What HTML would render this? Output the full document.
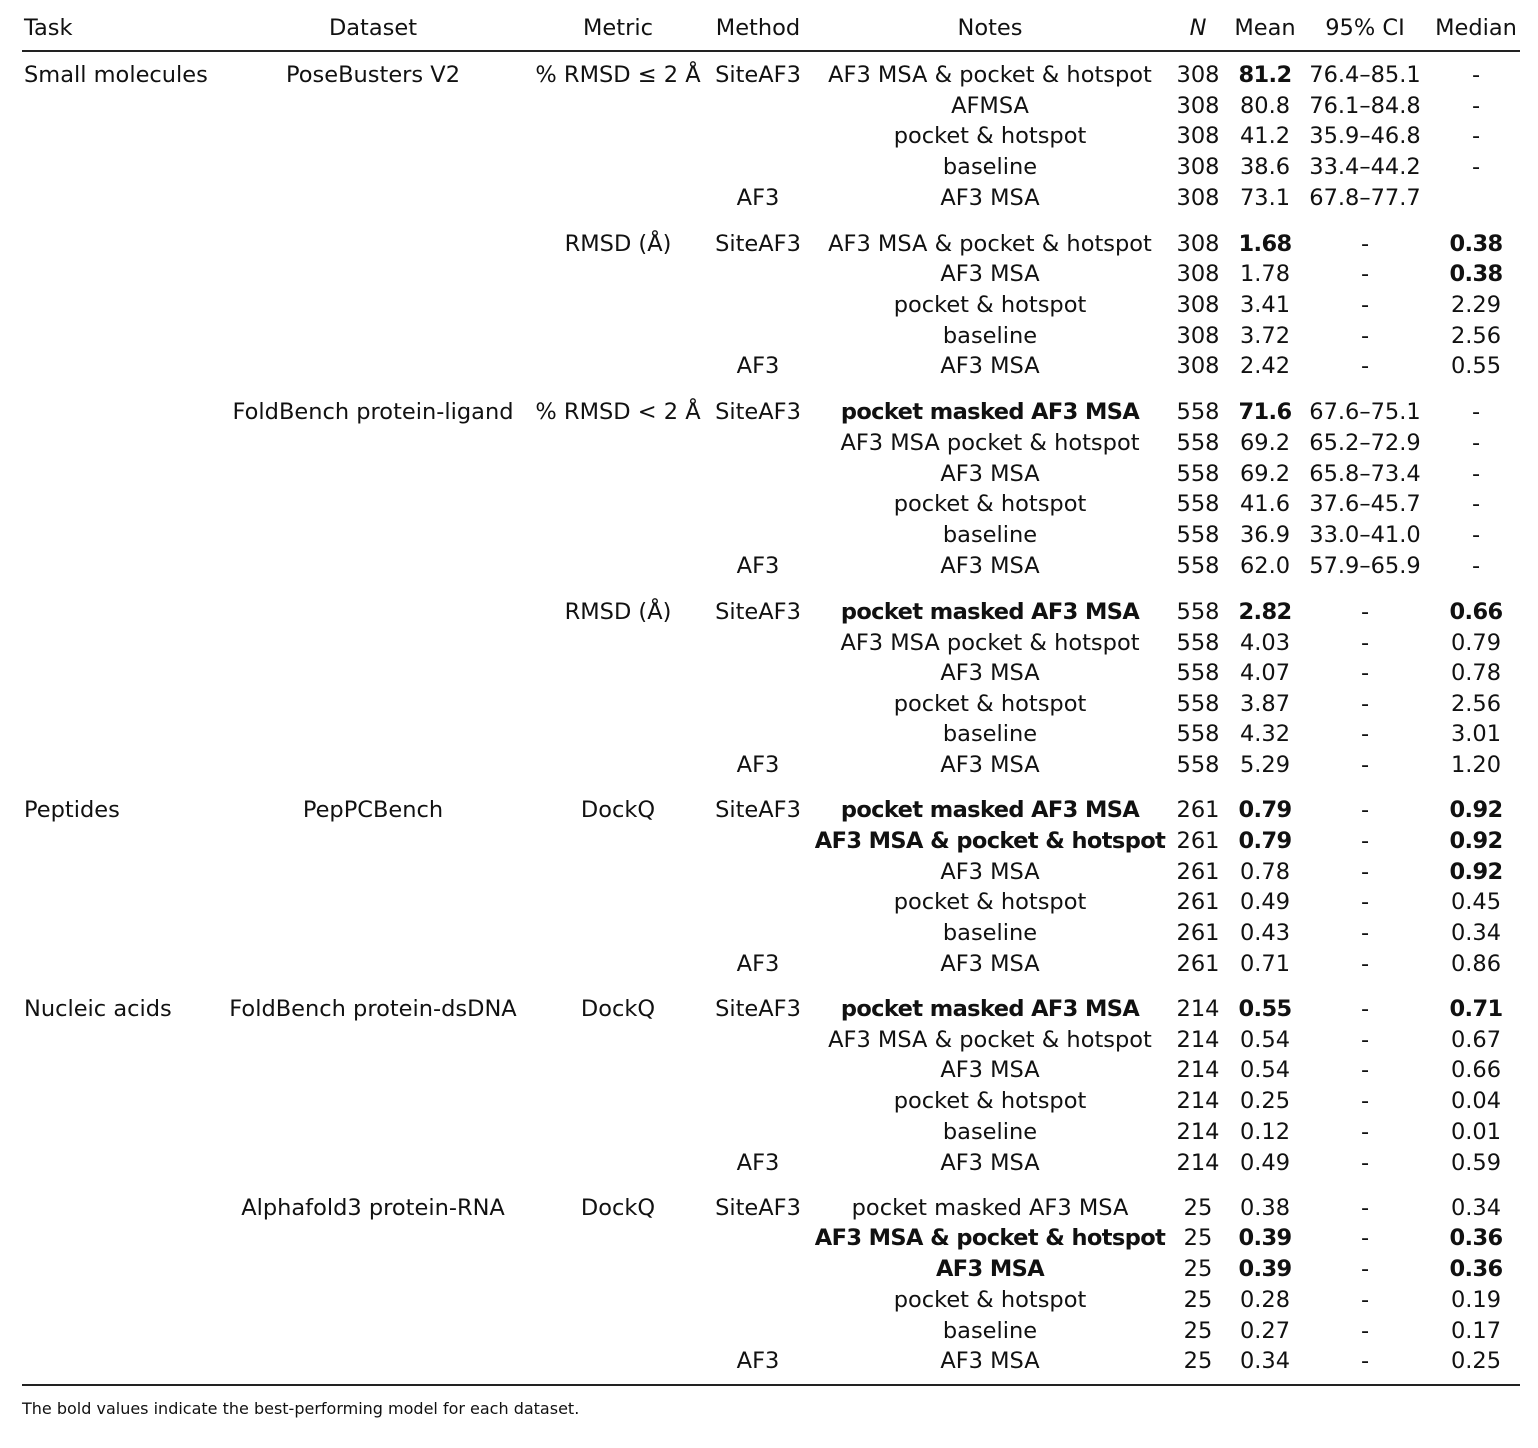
<!DOCTYPE html>
<html><head><meta charset="utf-8"><style>
body{margin:0;width:1538px;height:1448px;background:#fff;font-family:"DejaVu Sans","Liberation Sans",sans-serif;color:#111;position:relative;overflow:hidden}
.r{position:absolute;left:0;width:1538px;height:30px;line-height:30px;font-size:22.5px}
.r span{position:absolute;top:1px;transform:translateX(-50%);white-space:nowrap}
.r span.t{transform:none;left:24px}
.d{left:373px}.m{left:618px}.me{left:758px}.n{left:990px}.N{left:1198px}.mn{left:1265px}.ci{left:1365px}.md{left:1476px}
b{font-weight:bold;letter-spacing:-0.6px}
.line{position:absolute;left:22px;width:1498px;height:1.5px;background:#222}
.fn{position:absolute;left:22px;top:1399px;font-size:16px}
</style></head><body>
<div class="r" style="top:12px"><span class="t">Task</span><span class="d">Dataset</span><span class="m">Metric</span><span class="me">Method</span><span class="n">Notes</span><span class="N"><i>N</i></span><span class="mn">Mean</span><span class="ci">95% CI</span><span class="md">Median</span></div>
<div class="line" style="top:50px"></div>

<div class="r" style="top:59px"><span class="t">Small molecules</span><span class="d">PoseBusters V2</span><span class="m">% RMSD ≤ 2 Å</span><span class="me">SiteAF3</span><span class="n">AF3 MSA &amp; pocket &amp; hotspot</span><span class="N">308</span><span class="mn"><b>81.2</b></span><span class="ci">76.4–85.1</span><span class="md">-</span></div>
<div class="r" style="top:90px"><span class="n">AFMSA</span><span class="N">308</span><span class="mn">80.8</span><span class="ci">76.1–84.8</span><span class="md">-</span></div>
<div class="r" style="top:120px"><span class="n">pocket &amp; hotspot</span><span class="N">308</span><span class="mn">41.2</span><span class="ci">35.9–46.8</span><span class="md">-</span></div>
<div class="r" style="top:151px"><span class="n">baseline</span><span class="N">308</span><span class="mn">38.6</span><span class="ci">33.4–44.2</span><span class="md">-</span></div>
<div class="r" style="top:182px"><span class="me">AF3</span><span class="n">AF3 MSA</span><span class="N">308</span><span class="mn">73.1</span><span class="ci">67.8–77.7</span></div>

<div class="r" style="top:228px"><span class="m">RMSD (Å)</span><span class="me">SiteAF3</span><span class="n">AF3 MSA &amp; pocket &amp; hotspot</span><span class="N">308</span><span class="mn"><b>1.68</b></span><span class="ci">-</span><span class="md"><b>0.38</b></span></div>
<div class="r" style="top:258px"><span class="n">AF3 MSA</span><span class="N">308</span><span class="mn">1.78</span><span class="ci">-</span><span class="md"><b>0.38</b></span></div>
<div class="r" style="top:289px"><span class="n">pocket &amp; hotspot</span><span class="N">308</span><span class="mn">3.41</span><span class="ci">-</span><span class="md">2.29</span></div>
<div class="r" style="top:320px"><span class="n">baseline</span><span class="N">308</span><span class="mn">3.72</span><span class="ci">-</span><span class="md">2.56</span></div>
<div class="r" style="top:350px"><span class="me">AF3</span><span class="n">AF3 MSA</span><span class="N">308</span><span class="mn">2.42</span><span class="ci">-</span><span class="md">0.55</span></div>

<div class="r" style="top:396px"><span class="d">FoldBench protein-ligand</span><span class="m">% RMSD &lt; 2 Å</span><span class="me">SiteAF3</span><span class="n"><b>pocket masked AF3 MSA</b></span><span class="N">558</span><span class="mn"><b>71.6</b></span><span class="ci">67.6–75.1</span><span class="md">-</span></div>
<div class="r" style="top:427px"><span class="n">AF3 MSA pocket &amp; hotspot</span><span class="N">558</span><span class="mn">69.2</span><span class="ci">65.2–72.9</span><span class="md">-</span></div>
<div class="r" style="top:458px"><span class="n">AF3 MSA</span><span class="N">558</span><span class="mn">69.2</span><span class="ci">65.8–73.4</span><span class="md">-</span></div>
<div class="r" style="top:488px"><span class="n">pocket &amp; hotspot</span><span class="N">558</span><span class="mn">41.6</span><span class="ci">37.6–45.7</span><span class="md">-</span></div>
<div class="r" style="top:519px"><span class="n">baseline</span><span class="N">558</span><span class="mn">36.9</span><span class="ci">33.0–41.0</span><span class="md">-</span></div>
<div class="r" style="top:550px"><span class="me">AF3</span><span class="n">AF3 MSA</span><span class="N">558</span><span class="mn">62.0</span><span class="ci">57.9–65.9</span><span class="md">-</span></div>

<div class="r" style="top:596px"><span class="m">RMSD (Å)</span><span class="me">SiteAF3</span><span class="n"><b>pocket masked AF3 MSA</b></span><span class="N">558</span><span class="mn"><b>2.82</b></span><span class="ci">-</span><span class="md"><b>0.66</b></span></div>
<div class="r" style="top:627px"><span class="n">AF3 MSA pocket &amp; hotspot</span><span class="N">558</span><span class="mn">4.03</span><span class="ci">-</span><span class="md">0.79</span></div>
<div class="r" style="top:657px"><span class="n">AF3 MSA</span><span class="N">558</span><span class="mn">4.07</span><span class="ci">-</span><span class="md">0.78</span></div>
<div class="r" style="top:688px"><span class="n">pocket &amp; hotspot</span><span class="N">558</span><span class="mn">3.87</span><span class="ci">-</span><span class="md">2.56</span></div>
<div class="r" style="top:718px"><span class="n">baseline</span><span class="N">558</span><span class="mn">4.32</span><span class="ci">-</span><span class="md">3.01</span></div>
<div class="r" style="top:749px"><span class="me">AF3</span><span class="n">AF3 MSA</span><span class="N">558</span><span class="mn">5.29</span><span class="ci">-</span><span class="md">1.20</span></div>

<div class="r" style="top:794px"><span class="t">Peptides</span><span class="d">PepPCBench</span><span class="m">DockQ</span><span class="me">SiteAF3</span><span class="n"><b>pocket masked AF3 MSA</b></span><span class="N">261</span><span class="mn"><b>0.79</b></span><span class="ci">-</span><span class="md"><b>0.92</b></span></div>
<div class="r" style="top:825px"><span class="n"><b>AF3 MSA &amp; pocket &amp; hotspot</b></span><span class="N">261</span><span class="mn"><b>0.79</b></span><span class="ci">-</span><span class="md"><b>0.92</b></span></div>
<div class="r" style="top:856px"><span class="n">AF3 MSA</span><span class="N">261</span><span class="mn">0.78</span><span class="ci">-</span><span class="md"><b>0.92</b></span></div>
<div class="r" style="top:886px"><span class="n">pocket &amp; hotspot</span><span class="N">261</span><span class="mn">0.49</span><span class="ci">-</span><span class="md">0.45</span></div>
<div class="r" style="top:917px"><span class="n">baseline</span><span class="N">261</span><span class="mn">0.43</span><span class="ci">-</span><span class="md">0.34</span></div>
<div class="r" style="top:948px"><span class="me">AF3</span><span class="n">AF3 MSA</span><span class="N">261</span><span class="mn">0.71</span><span class="ci">-</span><span class="md">0.86</span></div>

<div class="r" style="top:993px"><span class="t">Nucleic acids</span><span class="d">FoldBench protein-dsDNA</span><span class="m">DockQ</span><span class="me">SiteAF3</span><span class="n"><b>pocket masked AF3 MSA</b></span><span class="N">214</span><span class="mn"><b>0.55</b></span><span class="ci">-</span><span class="md"><b>0.71</b></span></div>
<div class="r" style="top:1024px"><span class="n">AF3 MSA &amp; pocket &amp; hotspot</span><span class="N">214</span><span class="mn">0.54</span><span class="ci">-</span><span class="md">0.67</span></div>
<div class="r" style="top:1054px"><span class="n">AF3 MSA</span><span class="N">214</span><span class="mn">0.54</span><span class="ci">-</span><span class="md">0.66</span></div>
<div class="r" style="top:1085px"><span class="n">pocket &amp; hotspot</span><span class="N">214</span><span class="mn">0.25</span><span class="ci">-</span><span class="md">0.04</span></div>
<div class="r" style="top:1116px"><span class="n">baseline</span><span class="N">214</span><span class="mn">0.12</span><span class="ci">-</span><span class="md">0.01</span></div>
<div class="r" style="top:1147px"><span class="me">AF3</span><span class="n">AF3 MSA</span><span class="N">214</span><span class="mn">0.49</span><span class="ci">-</span><span class="md">0.59</span></div>

<div class="r" style="top:1192px"><span class="d">Alphafold3 protein-RNA</span><span class="m">DockQ</span><span class="me">SiteAF3</span><span class="n">pocket masked AF3 MSA</span><span class="N">25</span><span class="mn">0.38</span><span class="ci">-</span><span class="md">0.34</span></div>
<div class="r" style="top:1222px"><span class="n"><b>AF3 MSA &amp; pocket &amp; hotspot</b></span><span class="N">25</span><span class="mn"><b>0.39</b></span><span class="ci">-</span><span class="md"><b>0.36</b></span></div>
<div class="r" style="top:1253px"><span class="n"><b>AF3 MSA</b></span><span class="N">25</span><span class="mn"><b>0.39</b></span><span class="ci">-</span><span class="md"><b>0.36</b></span></div>
<div class="r" style="top:1284px"><span class="n">pocket &amp; hotspot</span><span class="N">25</span><span class="mn">0.28</span><span class="ci">-</span><span class="md">0.19</span></div>
<div class="r" style="top:1315px"><span class="n">baseline</span><span class="N">25</span><span class="mn">0.27</span><span class="ci">-</span><span class="md">0.17</span></div>
<div class="r" style="top:1345px"><span class="me">AF3</span><span class="n">AF3 MSA</span><span class="N">25</span><span class="mn">0.34</span><span class="ci">-</span><span class="md">0.25</span></div>

<div class="line" style="top:1384px"></div>
<div class="fn">The bold values indicate the best-performing model for each dataset.</div>
</body></html>
